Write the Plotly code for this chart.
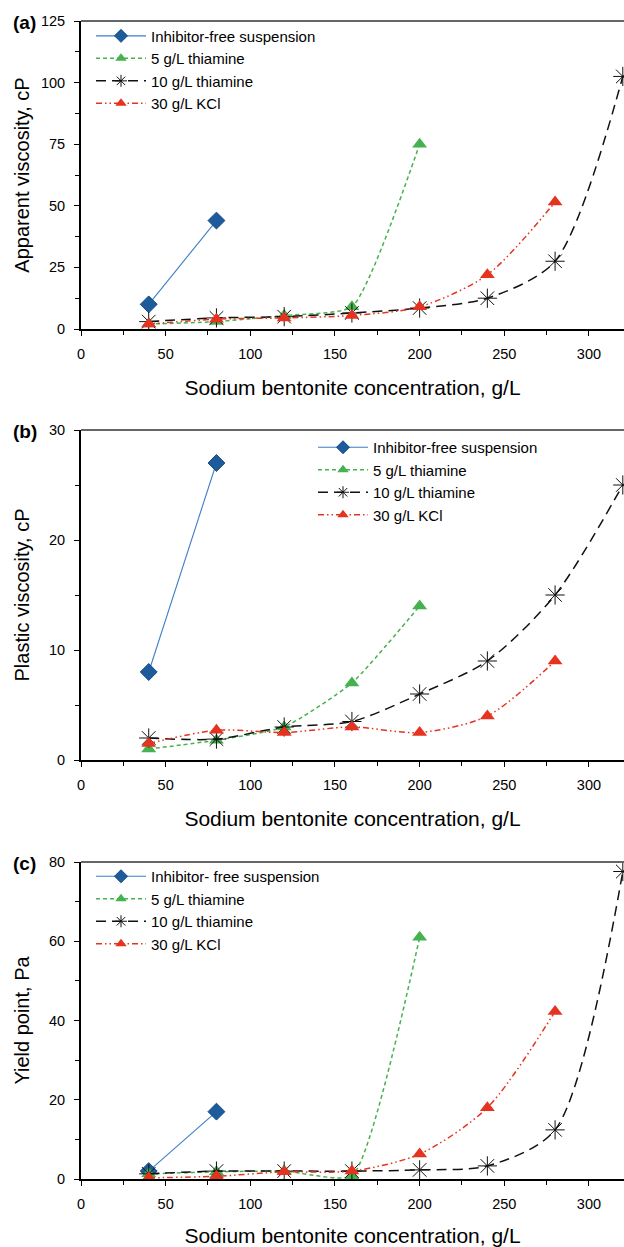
import plotly.graph_objects as go

# ---------------- data ----------------
conc = [40, 80, 120, 160, 200, 240, 280, 320]

series_names_ab = ["Inhibitor-free suspension", "5 g/L thiamine", "10 g/L thiamine", "30 g/L KCl"]
series_names_c = ["Inhibitor- free suspension", "5 g/L thiamine", "10 g/L thiamine", "30 g/L KCl"]

# (a) Apparent viscosity, cP
av_free = [10, 44]
av_thia5 = [2, 3, 5.5, 9, 75]
av_thia10 = [3, 4.5, 5, 6.5, 8.5, 12.5, 27.5, 102.5]
av_kcl = [2, 4, 4.5, 5.5, 9, 22, 51.5]

# (b) Plastic viscosity, cP
pv_free = [8, 27]
pv_thia5 = [1, 1.8, 3, 7, 14]
pv_thia10 = [2, 1.9, 3, 3.5, 6, 9, 15, 25]
pv_kcl = [1.5, 2.7, 2.5, 3, 2.5, 4, 9]

# (c) Yield point, Pa
yp_free = [2, 17]
yp_thia5 = [1.3, 1.8, 2, 0.8, 61]
yp_thia10 = [1.3, 2, 2, 2, 2.3, 3.3, 12.4, 77.6]
yp_kcl = [0.3, 0.7, 1.8, 2, 6.3, 18, 42.3]

x_title = "Sodium bentonite concentration, g/L"
y_titles = ["Apparent viscosity, cP", "Plastic viscosity, cP", "Yield point, Pa"]
panel_labels = ["(a)", "(b)", "(c)"]
y_ranges = [[0, 125], [0, 30], [0, 80]]
y_dticks = [25, 10, 20]

# ---------------- styling ----------------
FONT = "Arial, 'Liberation Sans', sans-serif"
W, H = 624, 1247
ML, MR, MT, MB = 81, 0, 21, 68
PH = H - MT - MB

def py(pix):
    return 1 - (pix - MT) / PH

domains = [[py(329), 1.0], [py(760), py(430)], [0.0, py(862)]]

BLUE_LINE = "#3d7ec6"
BLUE_MK = "#1d5c9c"
GREEN = "#45b14f"
RED = "#e6331f"
BLACK = "#111111"

styles = [
    dict(line=dict(color=BLUE_LINE, width=1.1),
         marker=dict(symbol="diamond", size=13, color=BLUE_MK, line=dict(color="#164a80", width=1)),
         lmarker=dict(symbol="diamond", size=10, color=BLUE_MK, line=dict(color="#164a80", width=1))),
    dict(line=dict(color=GREEN, width=1.5, dash="4px,3px", shape="spline", smoothing=0.5),
         marker=dict(symbol="triangle-up", size=13, color=GREEN),
         lmarker=dict(symbol="triangle-up", size=10, color=GREEN)),
    dict(line=dict(color=BLACK, width=1.5, dash="10px,6px", shape="spline", smoothing=0.8),
         marker=dict(symbol="asterisk-open", size=16, color=BLACK, line=dict(color=BLACK, width=1)),
         lmarker=dict(symbol="asterisk-open", size=10, color=BLACK, line=dict(color=BLACK, width=1))),
    dict(line=dict(color=RED, width=1.5, dash="6px,3px,1.5px,3px,1.5px,3px", shape="spline", smoothing=0.8),
         marker=dict(symbol="triangle-up", size=13, color=RED),
         lmarker=dict(symbol="triangle-up", size=10, color=RED)),
]

fig = go.Figure()

panels = [
    ((av_free, av_thia5, av_thia10, av_kcl), series_names_ab),
    ((pv_free, pv_thia5, pv_thia10, pv_kcl), series_names_ab),
    ((yp_free, yp_thia5, yp_thia10, yp_kcl), series_names_c),
]
legend_ids = ["legend", "legend2", "legend3"]

for i, (series, names) in enumerate(panels):
    xa = "x" if i == 0 else f"x{i+1}"
    ya = "y" if i == 0 else f"y{i+1}"
    lg = legend_ids[i]
    for vals, name, st in zip(series, names, styles):
        line = dict(st["line"])
        # data trace
        fig.add_trace(go.Scatter(
            x=conc[:len(vals)], y=vals, name=name, mode="lines+markers",
            line=line, marker=st["marker"], showlegend=False,
            legendgroup=f"{lg}-{name}", xaxis=xa, yaxis=ya))
        # legend entry (smaller symbol, like the original legend)
        lline = {k: v for k, v in line.items() if k not in ("shape", "smoothing")}
        fig.add_trace(go.Scatter(
            x=[None], y=[None], name=name, mode="lines+markers",
            line=lline, marker=st["lmarker"], showlegend=True,
            legendgroup=f"{lg}-{name}", xaxis=xa, yaxis=ya, legend=lg))

axis_common = dict(
    showgrid=False, zeroline=False, showline=True, linecolor="black", linewidth=2,
    ticks="outside", ticklen=5, tickwidth=1.2, tickcolor="black",
    tickfont=dict(family=FONT, size=14.5, color="black"),
)

layout = dict(
    width=W, height=H,
    margin=dict(l=ML, r=MR, t=MT, b=MB, pad=0),
    paper_bgcolor="white", plot_bgcolor="white",
    font=dict(family=FONT, color="black"),
    showlegend=True,
)

for i in range(3):
    xk = "xaxis" if i == 0 else f"xaxis{i+1}"
    yk = "yaxis" if i == 0 else f"yaxis{i+1}"
    anchor_y = "y" if i == 0 else f"y{i+1}"
    anchor_x = "x" if i == 0 else f"x{i+1}"
    layout[xk] = dict(
        axis_common, domain=[0, 1], anchor=anchor_y, range=[0, 320.7],
        tickmode="linear", tick0=0, dtick=50, ticklabelstandoff=6,
        minor=dict(dtick=25, ticks="outside", ticklen=4, tickcolor="black", tickwidth=1.2),
        title=dict(text=x_title, font=dict(family=FONT, size=21, color="black"), standoff=19),
    )
    layout[yk] = dict(
        axis_common, domain=domains[i], anchor=anchor_x, range=y_ranges[i],
        tickmode="linear", tick0=0, dtick=y_dticks[i], ticklabelstandoff=6,
        minor=dict(dtick=y_dticks[i] / 2, ticks="outside", ticklen=4, tickcolor="black", tickwidth=1.2),
        title=dict(text=y_titles[i], font=dict(family=FONT, size=20, color="black"),
                   standoff=[6, 14, 14][i]),
    )

leg_common = dict(
    bgcolor="rgba(0,0,0,0)", borderwidth=0, itemwidth=50, groupclick="toggleitem",
    tracegroupgap=0,
    font=dict(family=FONT, size=15, color="black"), xanchor="left", yanchor="top",
    xref="paper", yref="paper",
)
layout["legend"] = dict(leg_common, x=(91 - ML) / (W - ML), y=py(19.6))
layout["legend2"] = dict(leg_common, x=(313 - ML) / (W - ML), y=py(431))
layout["legend3"] = dict(leg_common, x=(91 - ML) / (W - ML), y=py(860))

fig.update_layout(**layout)

# grey top border of each plot area
for i in range(3):
    xr = "x domain" if i == 0 else f"x{i+1} domain"
    yr = "y domain" if i == 0 else f"y{i+1} domain"
    fig.add_shape(type="line", xref=xr, yref=yr, x0=0, x1=1, y0=1, y1=1,
                  line=dict(color="#666666", width=2))

# panel labels
label_y = [py(22.5), py(431.5), py(863.5)]
for i in range(3):
    fig.add_annotation(text="<b>" + panel_labels[i] + "</b>", xref="paper", yref="paper",
                       x=(11 - ML) / (W - ML), y=label_y[i], xanchor="left", yanchor="middle",
                       showarrow=False, font=dict(family=FONT, size=19, color="black"))

fig.write_html("out.html")
